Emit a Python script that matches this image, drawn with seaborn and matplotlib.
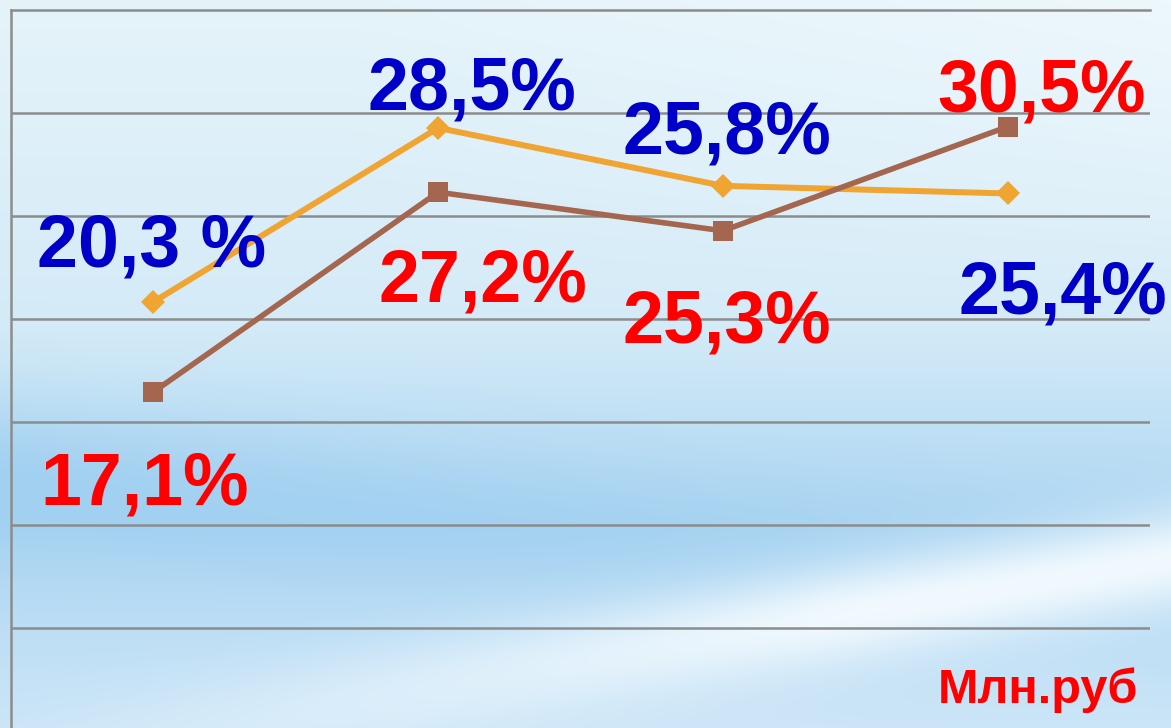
import numpy as np
import pandas as pd
import matplotlib
matplotlib.use("Agg")
import matplotlib.pyplot as plt
import seaborn as sns

# === Data (axis 0..35, gridline every 5) ===
periods = [1, 2, 3, 4]
orange_vals = [20.84, 29.28, 26.47, 26.10]
brown_vals = [16.47, 26.16, 24.29, 29.34]
orange_labels = ["20,3 %", "28,5%", "25,8%", "25,4%"]
brown_labels = ["17,1%", "27,2%", "25,3%", "30,5%"]
unit_label = "Млн.руб"

df = pd.DataFrame({
    "period": periods * 2,
    "value": orange_vals + brown_vals,
    "series": ["orange"] * 4 + ["brown"] * 4,
})

# label offsets from each marker (pixels: left edge / baseline)
orange_offsets = [(-116, 35), (-71, 18), (-100, 32), (-49, -120)]
brown_offsets = [(-113, -113), (-60, -109), (-100, -112), (-70, 15)]

sns.set_theme(style="white")
plt.rcParams["font.family"] = ["Liberation Sans", "DejaVu Sans"]

W, H = 1171, 728
fig = plt.figure(figsize=(W / 100, H / 100), dpi=100)

# --- soft sky background ---
u = np.linspace(0, 1, W)[None, :]
v = np.linspace(0, 1, H)[:, None]
stops_v = [0.0, 0.45, 0.72, 1.0]
stops_c = np.array([[0.90, 0.955, 0.98],
                    [0.83, 0.92, 0.97],
                    [0.68, 0.84, 0.95],
                    [0.80, 0.90, 0.97]])
img = np.zeros((H, W, 3))
for k in range(3):
    col = np.interp(v[:, 0], stops_v, stops_c[:, k])[:, None]
    img[:, :, k] = col
# lighter upper right
light = np.clip((u - 0.3) / 0.7, 0, 1) * np.clip(1 - v / 0.45, 0, 1) * 0.6
img = img * (1 - light[..., None]) + np.array([0.95, 0.98, 0.995]) * light[..., None]
# darker swirl, left
vd = 0.66 + 0.12 * u
dark = np.exp(-((v - vd) / 0.10) ** 2) * np.clip(1 - 0.8 * u, 0, 1) * 0.7
img = img * (1 - dark[..., None]) + np.array([0.60, 0.80, 0.94]) * dark[..., None]
# white band, bottom right
vb = 1.04 - 0.27 * u
white = np.exp(-((v - vb) / 0.07) ** 2) * np.clip(u * 1.4, 0, 1) * 0.9
img = img * (1 - white[..., None]) + np.array([0.97, 0.99, 1.0]) * white[..., None]

bg = fig.add_axes([0, 0, 1, 1], zorder=-1)
bg.imshow(np.clip(img, 0, 1), aspect="auto")
bg.axis("off")

# --- chart ---
ax = fig.add_axes([11 / W, -3.5 / H, 1139 / W, 721.5 / H])
ax.set_facecolor("none")

sns.lineplot(data=df[df.series == "orange"], x="period", y="value",
             color="#F0A431", marker="D", markersize=12, markeredgewidth=0,
             linewidth=4.3, ax=ax, legend=False, zorder=3)
sns.lineplot(data=df[df.series == "brown"], x="period", y="value",
             color="#A4664E", marker="s", markersize=14, markeredgewidth=0,
             linewidth=4.0, ax=ax, legend=False, zorder=3)

ax.set_xlim(0.5, 4.5)
ax.set_ylim(0, 35)
ax.set_yticks(range(0, 35, 5))
ax.set_xticks([])
ax.grid(axis="y", color="#8C8C8C", linewidth=1.8)
ax.tick_params(left=False, labelleft=False)
ax.set_xlabel("")
ax.set_ylabel("")
for side in ["right", "bottom"]:
    ax.spines[side].set_visible(False)
for side in ["left", "top"]:
    ax.spines[side].set_color("#8C8C8C")
    ax.spines[side].set_linewidth(1.8)

for x, y, lab, off in zip(periods, orange_vals, orange_labels, orange_offsets):
    ax.annotate(lab, (x, y), xytext=off, textcoords="offset pixels",
                ha="left", va="baseline", fontsize=53, fontweight="bold",
                color="#0000C8", zorder=4)
for x, y, lab, off in zip(periods, brown_vals, brown_labels, brown_offsets):
    ax.annotate(lab, (x, y), xytext=off, textcoords="offset pixels",
                ha="left", va="baseline", fontsize=53, fontweight="bold",
                color="#FF0000", zorder=4)

fig.text(937.7 / W, 1 - 703 / H, unit_label, ha="left", va="baseline",
         fontsize=35, fontweight="bold", color="#FF0000")

fig.savefig("out.png", dpi=100)
